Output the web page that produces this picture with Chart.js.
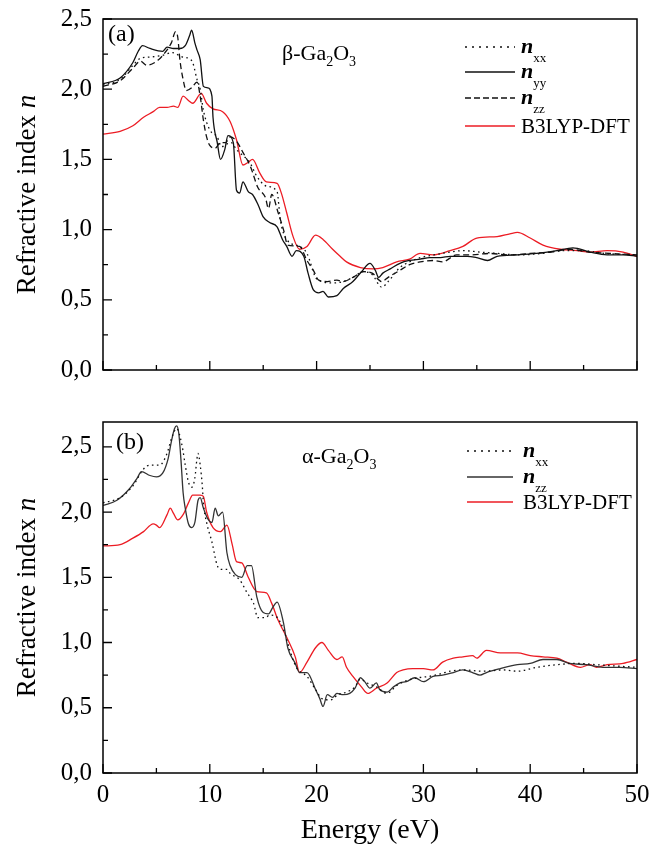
<!DOCTYPE html>
<html>
<head>
<meta charset="UTF-8">
<title>Refractive index of Ga2O3</title>
<script src="https://cdn.jsdelivr.net/npm/chart.js"></script>
<style>
  html, body { margin: 0; padding: 0; background: #fff; }
  .panel { position: absolute; left: 0; }
  #panelA { top: 0; }
  #panelB { top: 420px; }
</style>
</head>
<body>
<canvas id="panelA" class="panel" width="662" height="420"></canvas>
<canvas id="panelB" class="panel" width="662" height="432"></canvas>

<script>
const xTicks = [0, 10, 20, 30, 40, 50];
const yTicks = [0, 0.5, 1, 1.5, 2, 2.5];

// (a) beta-Ga2O3 : n_xx (dotted)
const aXxE = [0, 1.6, 2.8, 3.5, 4.5, 5.5, 6.5, 7.4, 8.0, 8.4, 8.8, 9.1, 9.4, 10.0, 10.7, 11.1, 11.6, 12.0, 12.5, 13.8, 14.4, 15.3, 16.3, 16.6, 17.2, 18.4, 19.1, 19.9, 20.5, 21.5, 22.5, 23.4, 24.4, 25.2, 26.1, 26.7, 27.8, 28.7, 29.7, 31.0, 32.5, 33.7, 35.3, 37.0, 39.0, 41.0, 43.0, 45.0, 47.0, 50];
const aXxN = [2.03, 2.07, 2.17, 2.22, 2.23, 2.24, 2.26, 2.23, 2.22, 2.19, 2.07, 2.00, 1.85, 1.71, 1.66, 1.59, 1.61, 1.62, 1.57, 1.47, 1.38, 1.31, 1.27, 1.07, 0.93, 0.88, 0.83, 0.66, 0.63, 0.62, 0.63, 0.66, 0.70, 0.68, 0.59, 0.63, 0.73, 0.77, 0.80, 0.82, 0.84, 0.85, 0.84, 0.83, 0.82, 0.83, 0.85, 0.85, 0.83, 0.82];

// (a) n_yy (solid)
const aYyE = [0, 1.6, 2.8, 3.3, 3.7, 4.4, 5.6, 6.0, 6.6, 7.2, 7.7, 8.1, 8.3, 8.6, 8.8, 9.1, 9.4, 9.8, 10.2, 10.3, 10.7, 11.0, 11.4, 11.7, 12.2, 12.5, 12.8, 13.1, 13.6, 14.0, 14.5, 15.0, 15.6, 16.3, 16.8, 17.2, 17.7, 18.1, 18.8, 19.2, 19.7, 20.2, 20.6, 21.1, 21.9, 22.5, 23.4, 24.2, 25.0, 25.5, 25.8, 26.2, 26.9, 27.8, 28.7, 29.7, 30.6, 31.6, 32.5, 34.1, 35.0, 36.0, 36.9, 38.8, 40.6, 42.5, 44.0, 45.6, 47.2, 48.7, 50];
const aYyN = [2.04, 2.08, 2.19, 2.27, 2.31, 2.29, 2.27, 2.30, 2.29, 2.29, 2.31, 2.38, 2.42, 2.33, 2.28, 2.21, 2.02, 2.01, 1.95, 1.80, 1.62, 1.50, 1.57, 1.67, 1.62, 1.28, 1.26, 1.34, 1.27, 1.25, 1.18, 1.09, 1.05, 1.02, 0.93, 0.88, 0.81, 0.85, 0.81, 0.69, 0.57, 0.55, 0.56, 0.52, 0.53, 0.58, 0.63, 0.70, 0.76, 0.71, 0.66, 0.69, 0.72, 0.76, 0.78, 0.79, 0.80, 0.80, 0.81, 0.81, 0.80, 0.78, 0.81, 0.82, 0.83, 0.85, 0.87, 0.84, 0.82, 0.82, 0.81];

// (a) n_zz (dashed)
const aZzE = [0, 1.6, 2.8, 3.5, 4.1, 5.2, 5.8, 6.4, 6.8, 7.0, 7.2, 7.5, 7.8, 8.3, 8.8, 9.1, 9.4, 9.7, 10.0, 10.5, 11.0, 11.5, 11.9, 12.5, 13.1, 13.8, 14.5, 15.2, 15.5, 15.8, 16.4, 16.9, 17.3, 18.4, 19.1, 19.7, 20.2, 21.0, 21.9, 22.5, 23.4, 24.4, 25.2, 26.1, 26.7, 27.8, 28.7, 29.7, 30.9, 31.8, 33.1, 34.4, 36.2, 38.0, 40.0, 42.0, 43.7, 45.5, 47.5, 50];
const aZzN = [2.02, 2.06, 2.15, 2.20, 2.17, 2.21, 2.26, 2.33, 2.41, 2.37, 2.21, 2.07, 1.99, 2.01, 2.05, 1.95, 1.78, 1.66, 1.60, 1.58, 1.62, 1.62, 1.66, 1.63, 1.55, 1.45, 1.30, 1.23, 1.15, 1.25, 1.12, 1.00, 0.89, 0.88, 0.78, 0.71, 0.64, 0.63, 0.64, 0.63, 0.66, 0.70, 0.69, 0.63, 0.66, 0.71, 0.75, 0.77, 0.78, 0.77, 0.82, 0.82, 0.83, 0.82, 0.83, 0.84, 0.86, 0.84, 0.83, 0.82];

// (a) B3LYP-DFT (red)
const aDftE = [0, 1.6, 2.8, 3.8, 4.7, 5.3, 6.0, 6.6, 7.0, 7.5, 8.0, 8.4, 9.2, 9.7, 10.3, 11.2, 11.9, 12.5, 13.1, 13.6, 14.0, 14.7, 15.3, 16.3, 16.7, 17.2, 17.8, 18.4, 19.1, 19.9, 20.6, 21.5, 22.2, 22.8, 24.1, 25.3, 26.2, 27.5, 28.7, 29.7, 30.9, 32.5, 33.7, 35.0, 36.9, 38.1, 38.8, 40.0, 41.2, 42.8, 44.4, 45.6, 47.2, 48.7, 50];
const aDftN = [1.68, 1.70, 1.74, 1.80, 1.84, 1.87, 1.87, 1.88, 1.87, 1.95, 1.92, 1.90, 1.97, 1.90, 1.86, 1.84, 1.77, 1.64, 1.46, 1.48, 1.50, 1.40, 1.34, 1.33, 1.26, 1.12, 0.95, 0.86, 0.88, 0.96, 0.93, 0.86, 0.81, 0.77, 0.73, 0.72, 0.73, 0.77, 0.79, 0.83, 0.82, 0.85, 0.88, 0.94, 0.95, 0.97, 0.98, 0.94, 0.89, 0.86, 0.85, 0.84, 0.85, 0.84, 0.81];

// (b) alpha-Ga2O3 : n_xx (dotted)
const bXxE = [0, 1.6, 2.8, 3.8, 4.4, 5.3, 6.0, 6.4, 6.9, 7.4, 7.7, 8.0, 8.3, 8.6, 8.8, 8.9, 9.1, 9.3, 9.4, 9.7, 10.2, 10.7, 11.1, 11.6, 11.9, 12.8, 13.5, 14.1, 14.5, 15.2, 15.6, 16.2, 16.9, 17.5, 18.1, 19.1, 19.9, 20.5, 21.3, 22.0, 22.8, 23.6, 24.1, 24.7, 25.6, 26.6, 27.5, 28.5, 29.5, 30.5, 31.6, 32.5, 33.7, 35.6, 37.5, 38.8, 40.6, 42.5, 44.4, 46.2, 48.0, 50];
const bXxN = [2.07, 2.11, 2.20, 2.33, 2.36, 2.36, 2.45, 2.56, 2.64, 2.51, 2.36, 2.23, 2.19, 2.26, 2.41, 2.45, 2.36, 2.20, 2.07, 1.92, 1.77, 1.59, 1.56, 1.56, 1.53, 1.48, 1.38, 1.30, 1.19, 1.19, 1.21, 1.20, 1.10, 0.94, 0.81, 0.74, 0.64, 0.57, 0.56, 0.60, 0.62, 0.66, 0.72, 0.69, 0.66, 0.61, 0.67, 0.71, 0.73, 0.74, 0.76, 0.78, 0.79, 0.78, 0.79, 0.78, 0.81, 0.83, 0.84, 0.83, 0.82, 0.81];

// (b) n_zz (solid)
const bZzE = [0, 1.3, 2.5, 3.2, 3.6, 4.4, 5.0, 5.6, 6.1, 6.4, 6.7, 6.9, 7.1, 7.3, 7.5, 7.7, 8.0, 8.3, 8.6, 8.9, 9.1, 9.4, 9.8, 10.2, 10.5, 10.8, 11.2, 11.6, 11.9, 12.4, 13.0, 13.5, 13.9, 14.4, 15.0, 15.5, 15.9, 16.3, 16.9, 17.3, 18.0, 18.4, 19.1, 19.9, 20.3, 20.6, 21.0, 21.5, 21.9, 22.5, 23.1, 23.6, 24.1, 24.5, 25.0, 25.6, 25.9, 26.6, 27.2, 27.8, 28.4, 29.2, 30.0, 30.9, 31.8, 32.8, 33.7, 34.6, 35.3, 35.9, 37.2, 38.8, 40.0, 41.2, 42.5, 43.7, 45.3, 46.8, 48.4, 50];
const bZzN = [2.05, 2.09, 2.18, 2.26, 2.31, 2.28, 2.27, 2.30, 2.41, 2.54, 2.64, 2.66, 2.60, 2.40, 2.15, 2.03, 1.91, 1.88, 1.92, 2.09, 2.11, 2.03, 1.95, 1.92, 2.03, 1.97, 2.00, 1.69, 1.59, 1.52, 1.50, 1.59, 1.59, 1.35, 1.23, 1.22, 1.27, 1.31, 1.15, 0.96, 0.84, 0.77, 0.77, 0.64, 0.57, 0.51, 0.60, 0.58, 0.61, 0.60, 0.61, 0.65, 0.73, 0.70, 0.65, 0.69, 0.64, 0.62, 0.66, 0.69, 0.70, 0.73, 0.70, 0.74, 0.75, 0.77, 0.79, 0.77, 0.75, 0.77, 0.80, 0.83, 0.84, 0.87, 0.87, 0.84, 0.83, 0.81, 0.81, 0.80];

// (b) B3LYP-DFT (red)
const bDftE = [0, 1.6, 2.8, 3.8, 4.7, 5.0, 5.3, 6.0, 6.3, 6.6, 7.0, 7.5, 8.0, 8.4, 9.1, 9.4, 9.7, 10.3, 11.0, 11.6, 12.1, 12.5, 13.0, 13.6, 14.4, 15.3, 15.8, 16.4, 17.2, 18.0, 18.4, 19.1, 19.9, 20.5, 21.1, 21.9, 22.4, 22.8, 23.4, 24.2, 24.8, 25.6, 26.6, 27.5, 28.1, 29.0, 30.0, 30.9, 31.8, 32.8, 33.7, 34.6, 35.0, 35.9, 37.2, 38.8, 40.0, 41.2, 42.5, 43.4, 44.7, 45.6, 46.2, 47.2, 48.7, 50];
const bDftN = [1.74, 1.75, 1.80, 1.85, 1.91, 1.90, 1.88, 1.98, 2.03, 1.99, 1.94, 1.98, 2.07, 2.13, 2.13, 2.12, 2.00, 1.88, 1.85, 1.90, 1.75, 1.62, 1.61, 1.50, 1.39, 1.38, 1.30, 1.17, 1.04, 0.89, 0.77, 0.85, 0.96, 1.00, 0.94, 0.87, 0.89, 0.81, 0.74, 0.66, 0.61, 0.65, 0.69, 0.77, 0.79, 0.80, 0.80, 0.79, 0.85, 0.88, 0.89, 0.90, 0.88, 0.94, 0.92, 0.92, 0.90, 0.89, 0.88, 0.85, 0.81, 0.83, 0.81, 0.83, 0.84, 0.87];

const FONT = '"Liberation Serif", "Times New Roman", serif';
const BLACK = '#111';
const GREY = '#333';
const RED = '#ec1c24';
const DOTS = [1.6, 3.4];
const DASH = [6, 3.5];

const pts = (E, N) => E.map((e, i) => ({ x: e, y: N[i] }));

// frame, inward ticks, y title, labels and legend
const decor = {
  id: 'decor',
  afterDraw(chart, args, o) {
    const ctx = chart.ctx, a = chart.chartArea;
    const xs = chart.scales.x, ys = chart.scales.y;
    ctx.save();
    ctx.strokeStyle = '#000';
    ctx.lineWidth = 1.5;
    ctx.strokeRect(a.left, a.top, a.right - a.left, a.bottom - a.top);

    ctx.lineWidth = 1.3;
    ctx.beginPath();
    for (let i = 0; i <= 10; i++) {
      const px = xs.getPixelForValue(i * 5);
      const len = i % 2 === 0 ? 9 : 5;
      ctx.moveTo(px, a.bottom);
      ctx.lineTo(px, a.bottom - len);
    }
    for (let i = 0; i * 0.25 <= ys.max; i++) {
      const py = ys.getPixelForValue(i * 0.25);
      const len = i % 2 === 0 ? 9 : 5;
      ctx.moveTo(a.left, py);
      ctx.lineTo(a.left + len, py);
    }
    ctx.stroke();

    // y title with italic n
    ctx.fillStyle = '#000';
    ctx.save();
    ctx.translate(28, (a.top + a.bottom) / 2);
    ctx.rotate(-Math.PI / 2);
    ctx.textBaseline = 'middle';
    ctx.font = '27px ' + FONT;
    const t1 = 'Refractive index ';
    const w1 = ctx.measureText(t1).width;
    ctx.font = 'italic 27px ' + FONT;
    const w2 = ctx.measureText('n').width;
    let sx = -(w1 + w2) / 2;
    ctx.font = '27px ' + FONT;
    ctx.fillText(t1, sx, 0);
    ctx.font = 'italic 27px ' + FONT;
    ctx.fillText('n', sx + w1, 0);
    ctx.restore();

    // panel letter
    ctx.textBaseline = 'alphabetic';
    ctx.font = '24px ' + FONT;
    ctx.fillText(o.letter, o.letterX, o.letterY);

    // compound name with subscripts
    let x = o.nameX;
    const parts = [[o.greek + '-Ga', false], ['2', true], ['O', false], ['3', true]];
    parts.forEach(([t, sub]) => {
      ctx.font = (sub ? '14px ' : '22px ') + FONT;
      ctx.fillText(t, x, o.nameY + (sub ? 6 : 0));
      x += ctx.measureText(t).width;
    });

    // legend
    o.legend.forEach((it, k) => {
      const y = o.legY[k];
      ctx.save();
      ctx.strokeStyle = it.color;
      ctx.lineWidth = 1.4;
      ctx.setLineDash(it.dash);
      ctx.beginPath();
      ctx.moveTo(o.legX1, y);
      ctx.lineTo(o.legX2, y);
      ctx.stroke();
      ctx.restore();
      if (it.sub) {
        ctx.font = 'bold italic 22px ' + FONT;
        ctx.fillText('n', o.legTx, y + 6);
        const wn = ctx.measureText('n').width;
        ctx.font = '13px ' + FONT;
        ctx.fillText(it.sub, o.legTx + wn, y + 15);
      } else {
        ctx.font = '21px ' + FONT;
        ctx.fillText(it.text, o.legTx, y + 7);
      }
    });
    ctx.restore();
  }
};

function line(data, color, dash) {
  return { data, borderColor: color, borderDash: dash, borderWidth: 1.3, pointRadius: 0,
           cubicInterpolationMode: 'monotone', fill: false };
}

function makeChart(id, datasets, yMax, showX, decorOpts) {
  return new Chart(document.getElementById(id), {
    type: 'line',
    data: { datasets },
    options: {
      responsive: false,
      animation: false,
      layout: { padding: { top: showX ? 2 : 19, right: 25, left: 0, bottom: 0 } },
      plugins: { legend: { display: false }, tooltip: { enabled: false }, decor: decorOpts },
      scales: {
        x: {
          type: 'linear', min: 0, max: 50,
          grid: { display: false, drawTicks: false },
          border: { display: false },
          afterBuildTicks: s => { s.ticks = xTicks.map(v => ({ value: v })); },
          ticks: { display: showX, padding: 7, font: { family: FONT, size: 25 }, color: '#000' },
          title: { display: showX, text: 'Energy (eV)', font: { family: FONT, size: 28 }, color: '#000', padding: { top: 0, bottom: 5 } },
          afterFit: s => { s.height = showX ? 79 : 50; s.paddingLeft = 0; s.paddingRight = 0; }
        },
        y: {
          type: 'linear', min: 0, max: yMax,
          grid: { display: false, drawTicks: false },
          border: { display: false },
          afterBuildTicks: s => { s.ticks = yTicks.map(v => ({ value: v })); },
          ticks: { padding: 11, font: { family: FONT, size: 25 }, color: '#000',
                   callback: v => v.toFixed(1).replace('.', ',') },
          afterFit: s => { s.width = 103; s.paddingTop = 0; s.paddingBottom = 0; }
        }
      }
    },
    plugins: [decor]
  });
}

makeChart('panelA', [
  line(pts(aXxE, aXxN), BLACK, DOTS),
  line(pts(aYyE, aYyN), BLACK, []),
  line(pts(aZzE, aZzN), BLACK, DASH),
  line(pts(aDftE, aDftN), RED, [])
], 2.5, false, {
  letter: '(a)', letterX: 108, letterY: 41,
  greek: 'β', nameX: 282, nameY: 60,
  legX1: 465, legX2: 515, legTx: 521, legY: [47, 72, 98, 126],
  legend: [
    { sub: 'xx', color: BLACK, dash: [2, 5] },
    { sub: 'yy', color: BLACK, dash: [] },
    { sub: 'zz', color: BLACK, dash: [6, 3] },
    { text: 'B3LYP-DFT', color: RED, dash: [] }
  ]
});

makeChart('panelB', [
  line(pts(bXxE, bXxN), BLACK, DOTS),
  line(pts(bZzE, bZzN), GREY, []),
  line(pts(bDftE, bDftN), RED, [])
], 2.69, true, {
  letter: '(b)', letterX: 116, letterY: 29,
  greek: 'α', nameX: 302, nameY: 43,
  legX1: 467, legX2: 513, legTx: 523, legY: [31, 57, 82],
  legend: [
    { sub: 'xx', color: BLACK, dash: [2, 5] },
    { sub: 'zz', color: GREY, dash: [] },
    { text: 'B3LYP-DFT', color: RED, dash: [] }
  ]
});
</script>
</body>
</html>
